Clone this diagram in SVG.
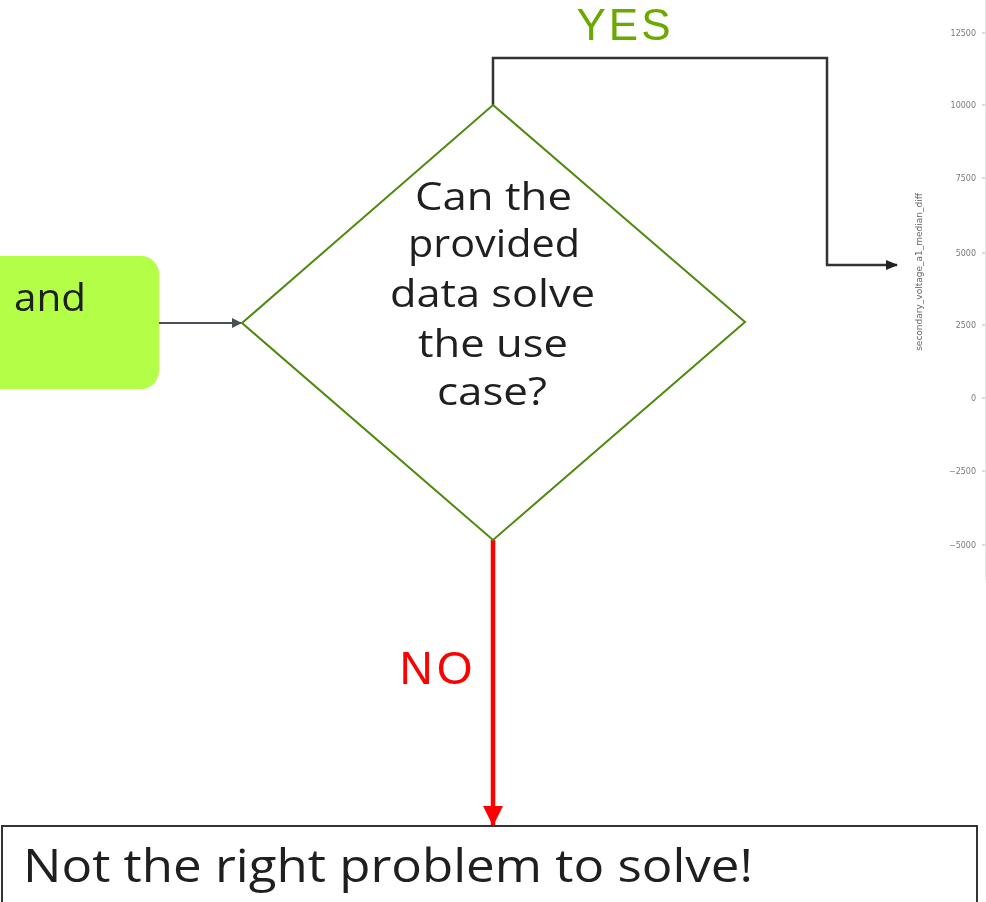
<svg xmlns="http://www.w3.org/2000/svg" width="986" height="902" viewBox="0 0 986 902">
<style>
.t{font-family:"Open Sans","Liberation Sans",sans-serif;fill:#1f1f1f}
.tick{font-family:"DejaVu Sans",sans-serif;font-size:8px;fill:#7a7a7a;text-anchor:end}
.conn{fill:none;stroke:#333;stroke-width:2.5}
</style>
<defs>
<filter id="blur" x="-5%" y="-5%" width="110%" height="110%"><feGaussianBlur stdDeviation="0.5"/></filter>
<marker id="ag" markerWidth="10" markerHeight="10" refX="9" refY="5" orient="auto" markerUnits="userSpaceOnUse"><path d="M0,0 L10,5 L0,10 z" fill="#4a4f55"/></marker>
<marker id="ak" markerWidth="12" markerHeight="10" refX="11" refY="5" orient="auto" markerUnits="userSpaceOnUse"><path d="M0,0 L12,5 L0,10 z" fill="#222"/></marker>
<marker id="ar" markerWidth="22" markerHeight="20" refX="20" refY="10" orient="auto" markerUnits="userSpaceOnUse"><path d="M0,0 L20,10 L0,20 z" fill="#ff0000"/></marker>
</defs>
<rect width="986" height="902" fill="#fff"/>
<g id="chart" filter="url(#blur)">
<text class="tick" x="976" y="36">12500</text>
<text class="tick" x="976" y="108">10000</text>
<text class="tick" x="976" y="181">7500</text>
<text class="tick" x="976" y="256">5000</text>
<text class="tick" x="976" y="328">2500</text>
<text class="tick" x="976" y="401">0</text>
<text class="tick" x="976" y="474">−2500</text>
<text class="tick" x="976" y="548">−5000</text>
<g stroke="#bbb" stroke-width="1">
<line x1="982" y1="33" x2="986" y2="33"/><line x1="982" y1="105" x2="986" y2="105"/><line x1="982" y1="178" x2="986" y2="178"/><line x1="982" y1="253" x2="986" y2="253"/><line x1="982" y1="325" x2="986" y2="325"/><line x1="982" y1="398" x2="986" y2="398"/><line x1="982" y1="471" x2="986" y2="471"/><line x1="982" y1="545" x2="986" y2="545"/>
<line x1="985.5" y1="0" x2="985.5" y2="580" stroke="#e4e4e4"/>
</g>
<text transform="translate(922,272) rotate(-90)" text-anchor="middle" font-family="DejaVu Sans,sans-serif" font-size="9" fill="#666">secondary_voltage_a1_median_diff</text>
</g>
<g id="connectors">
<line x1="159" y1="323" x2="241" y2="323" stroke="#4a4f55" stroke-width="2" marker-end="url(#ag)"/>
<path class="conn" d="M493,105 V58 H827 V265 H897" marker-end="url(#ak)"/>
<line x1="493" y1="540" x2="493" y2="826" stroke="#ff0000" stroke-width="4.5" marker-end="url(#ar)"/>
<text x="625" y="40" text-anchor="middle" font-family="Liberation Sans,sans-serif" font-size="44" letter-spacing="3" fill="#6aaa00">YES</text>
<text x="438" y="684" text-anchor="middle" font-family="Liberation Sans,sans-serif" font-size="46" letter-spacing="4" fill="#ff0000">NO</text>
</g>
<g id="start">
<rect x="-20" y="256" width="179" height="133" rx="18" fill="#b3ff47"/>
<text class="t" x="14" y="311" font-size="38" textLength="72" lengthAdjust="spacingAndGlyphs">and</text>
</g>
<g id="decision">
<polygon points="493,105 745,322 493,540 242,323" fill="#fff" stroke="#4e8a0e" stroke-width="2"/>
<g class="t" font-size="38">
<text x="415" y="210" textLength="157" lengthAdjust="spacingAndGlyphs">Can the</text>
<text x="408" y="257" textLength="172" lengthAdjust="spacingAndGlyphs">provided</text>
<text x="390" y="307" textLength="205" lengthAdjust="spacingAndGlyphs">data solve</text>
<text x="418" y="357" textLength="150" lengthAdjust="spacingAndGlyphs">the use</text>
<text x="437" y="405" textLength="110" lengthAdjust="spacingAndGlyphs">case?</text>
</g>
</g>
<g id="result">
<rect x="2" y="826" width="975" height="90" fill="#fff" stroke="#333" stroke-width="2"/>
<text class="t" x="23" y="882" font-size="46" textLength="730" lengthAdjust="spacingAndGlyphs">Not the right problem to solve!</text>
</g>
</svg>
